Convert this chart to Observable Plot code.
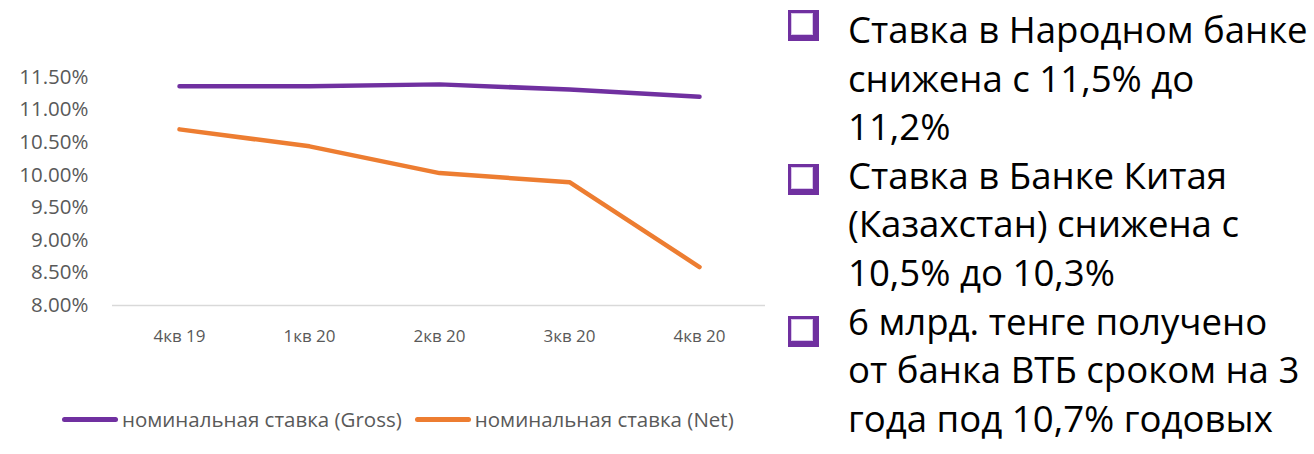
<!DOCTYPE html>
<html>
<head>
<meta charset="utf-8">
<script src="https://cdn.jsdelivr.net/npm/d3@7"></script>
<script src="https://cdn.jsdelivr.net/npm/@observablehq/plot@0.6"></script>
<style>
  html, body { margin: 0; padding: 0; background: #fff; }
  #wrap { position: relative; width: 1314px; height: 454px; overflow: hidden; font-family: "Open Sans", sans-serif; }
  #chart { position: absolute; left: 0; top: 0; }
  #legend { position: absolute; left: 62px; top: 405px; display: flex; align-items: center; gap: 13px; font-size: 20.5px; color: #595959; white-space: nowrap; }
  #legend .item { display: flex; align-items: center; }
  #legend .sw { width: 56px; height: 5px; border-radius: 3px; margin-right: 4px; }
  #notes { position: absolute; left: 848px; top: 5px; font-size: 36.6px; line-height: 48.6px; color: #000; white-space: nowrap; }
  .bullet { position: absolute; left: 788px; width: 22px; height: 22px; border-top: 3px solid #7030A0; border-left: 3px solid #7030A0; border-right: 6px solid #7030A0; border-bottom: 6px solid #7030A0; box-shadow: inset 0 0 0 1px #d9c6ea; background: #fff; }
</style>
</head>
<body>
<div id="wrap">
  <div id="chart"></div>
  <div id="legend"></div>
  <div id="notes"></div>
</div>
<script>
const quarters = ["4кв 19", "1кв 20", "2кв 20", "3кв 20", "4кв 20"];
const grossValues = [11.36, 11.36, 11.39, 11.31, 11.20];
const netValues = [10.70, 10.44, 10.03, 9.89, 8.59];
const seriesNames = ["номинальная ставка (Gross)", "номинальная ставка (Net)"];
const seriesColors = ["#7030A0", "#ED7D31"];
const yTicks = [8, 8.5, 9, 9.5, 10, 10.5, 11, 11.5];
const bullets = [
  ["Ставка в Народном банке", "снижена с 11,5% до", "11,2%"],
  ["Ставка в Банке Китая", "(Казахстан) снижена с", "10,5% до 10,3%"],
  ["6 млрд. тенге получено", "от банка ВТБ сроком на 3", "года под 10,7% годовых"]
];
const bulletTops = [10, 164, 316];

const rows = [];
quarters.forEach((q, i) => {
  rows.push({q, v: grossValues[i], s: seriesNames[0]});
  rows.push({q, v: netValues[i], s: seriesNames[1]});
});

const chart = Plot.plot({
  width: 765,
  height: 380,
  marginLeft: 112,
  marginRight: 0,
  marginTop: 76.7,
  marginBottom: 75,
  style: { fontFamily: "Open Sans, sans-serif", fontSize: "17px", color: "#595959", background: "transparent" },
  x: { type: "point", domain: quarters, padding: 0.5, label: null },
  y: { domain: [8, 11.5], label: null },
  color: { domain: seriesNames, range: seriesColors },
  marks: [
    Plot.ruleY([8], { stroke: "#d9d9d9", strokeWidth: 1.5 }),
    Plot.axisY({ ticks: yTicks, tickFormat: d => d.toFixed(2) + "%", tickSize: 0, tickPadding: 24, fontSize: 20.5, label: null }),
    Plot.axisX({ tickSize: 0, tickPadding: 24, fontSize: 17, label: null }),
    Plot.line(rows, { x: "q", y: "v", z: "s", stroke: "s", strokeWidth: 4.5, strokeLinecap: "round", strokeLinejoin: "round" })
  ]
});
document.getElementById("chart").appendChild(chart);

const legend = document.getElementById("legend");
seriesNames.forEach((name, i) => {
  const item = document.createElement("div");
  item.className = "item";
  const sw = document.createElement("div");
  sw.className = "sw";
  sw.style.background = seriesColors[i];
  const t = document.createElement("span");
  t.textContent = name;
  item.appendChild(sw);
  item.appendChild(t);
  legend.appendChild(item);
});

const notes = document.getElementById("notes");
const wrap = document.getElementById("wrap");
bullets.forEach((lines, k) => {
  const b = document.createElement("div");
  b.className = "bullet";
  b.style.top = bulletTops[k] + "px";
  wrap.appendChild(b);
  lines.forEach(l => {
    const d = document.createElement("div");
    d.textContent = l;
    notes.appendChild(d);
  });
});
</script>
</body>
</html>
